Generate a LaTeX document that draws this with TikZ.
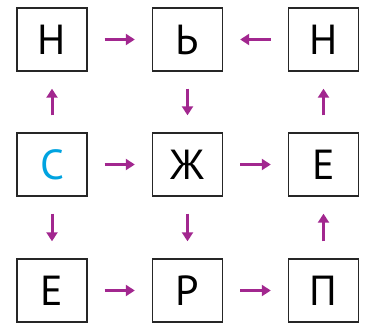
\documentclass[tikz,border=0pt]{standalone}
\usepackage{fontspec}
\setmainfont{PT Sans}
\definecolor{arrpurple}{HTML}{A2278F}
\definecolor{lettercyan}{HTML}{00A3E0}
\usetikzlibrary{arrows.meta, positioning}

\begin{document}
\begin{tikzpicture}[x=1pt, y=-1pt,
  letterbox/.style={draw=black!85, line width=1.4pt, minimum width=70pt,
              minimum height=63pt, inner sep=0pt, font=\fontsize{42}{48}\selectfont},
  arr/.style={draw=arrpurple, line width=3pt,
              -{Triangle[length=9pt, width=11pt]}, shorten >=17pt, shorten <=17pt},
]
  \useasboundingbox (0,0) rectangle (367,322);
  % top row
  \node[letterbox] (n1) at (52,39.5) {Н};
  \node[letterbox] (soft) at (187.5,39.5) {Ь};
  \node[letterbox] (n2) at (323.5,39.5) {Н};
  % middle row
  \node[letterbox, text=lettercyan] (s) at (52,164.5) {С};
  \node[letterbox] (zh) at (187.5,164.5) {Ж};
  \node[letterbox] (e1) at (323.5,164.5) {Е};
  % bottom row
  \node[letterbox] (e2) at (52,290.5) {Е};
  \node[letterbox] (r) at (187.5,290.5) {Р};
  \node[letterbox] (p) at (323.5,290.5) {П};

  % arrows
  \draw[arr] (n1) -- (soft);
  \draw[arr] (n2) -- (soft);
  \draw[arr] (s) -- (n1);
  \draw[arr] (soft) -- (zh);
  \draw[arr] (e1) -- (n2);
  \draw[arr] (s) -- (zh);
  \draw[arr] (zh) -- (e1);
  \draw[arr] (s) -- (e2);
  \draw[arr] (zh) -- (r);
  \draw[arr] (p) -- (e1);
  \draw[arr] (e2) -- (r);
  \draw[arr] (r) -- (p);
\end{tikzpicture}
\end{document}
